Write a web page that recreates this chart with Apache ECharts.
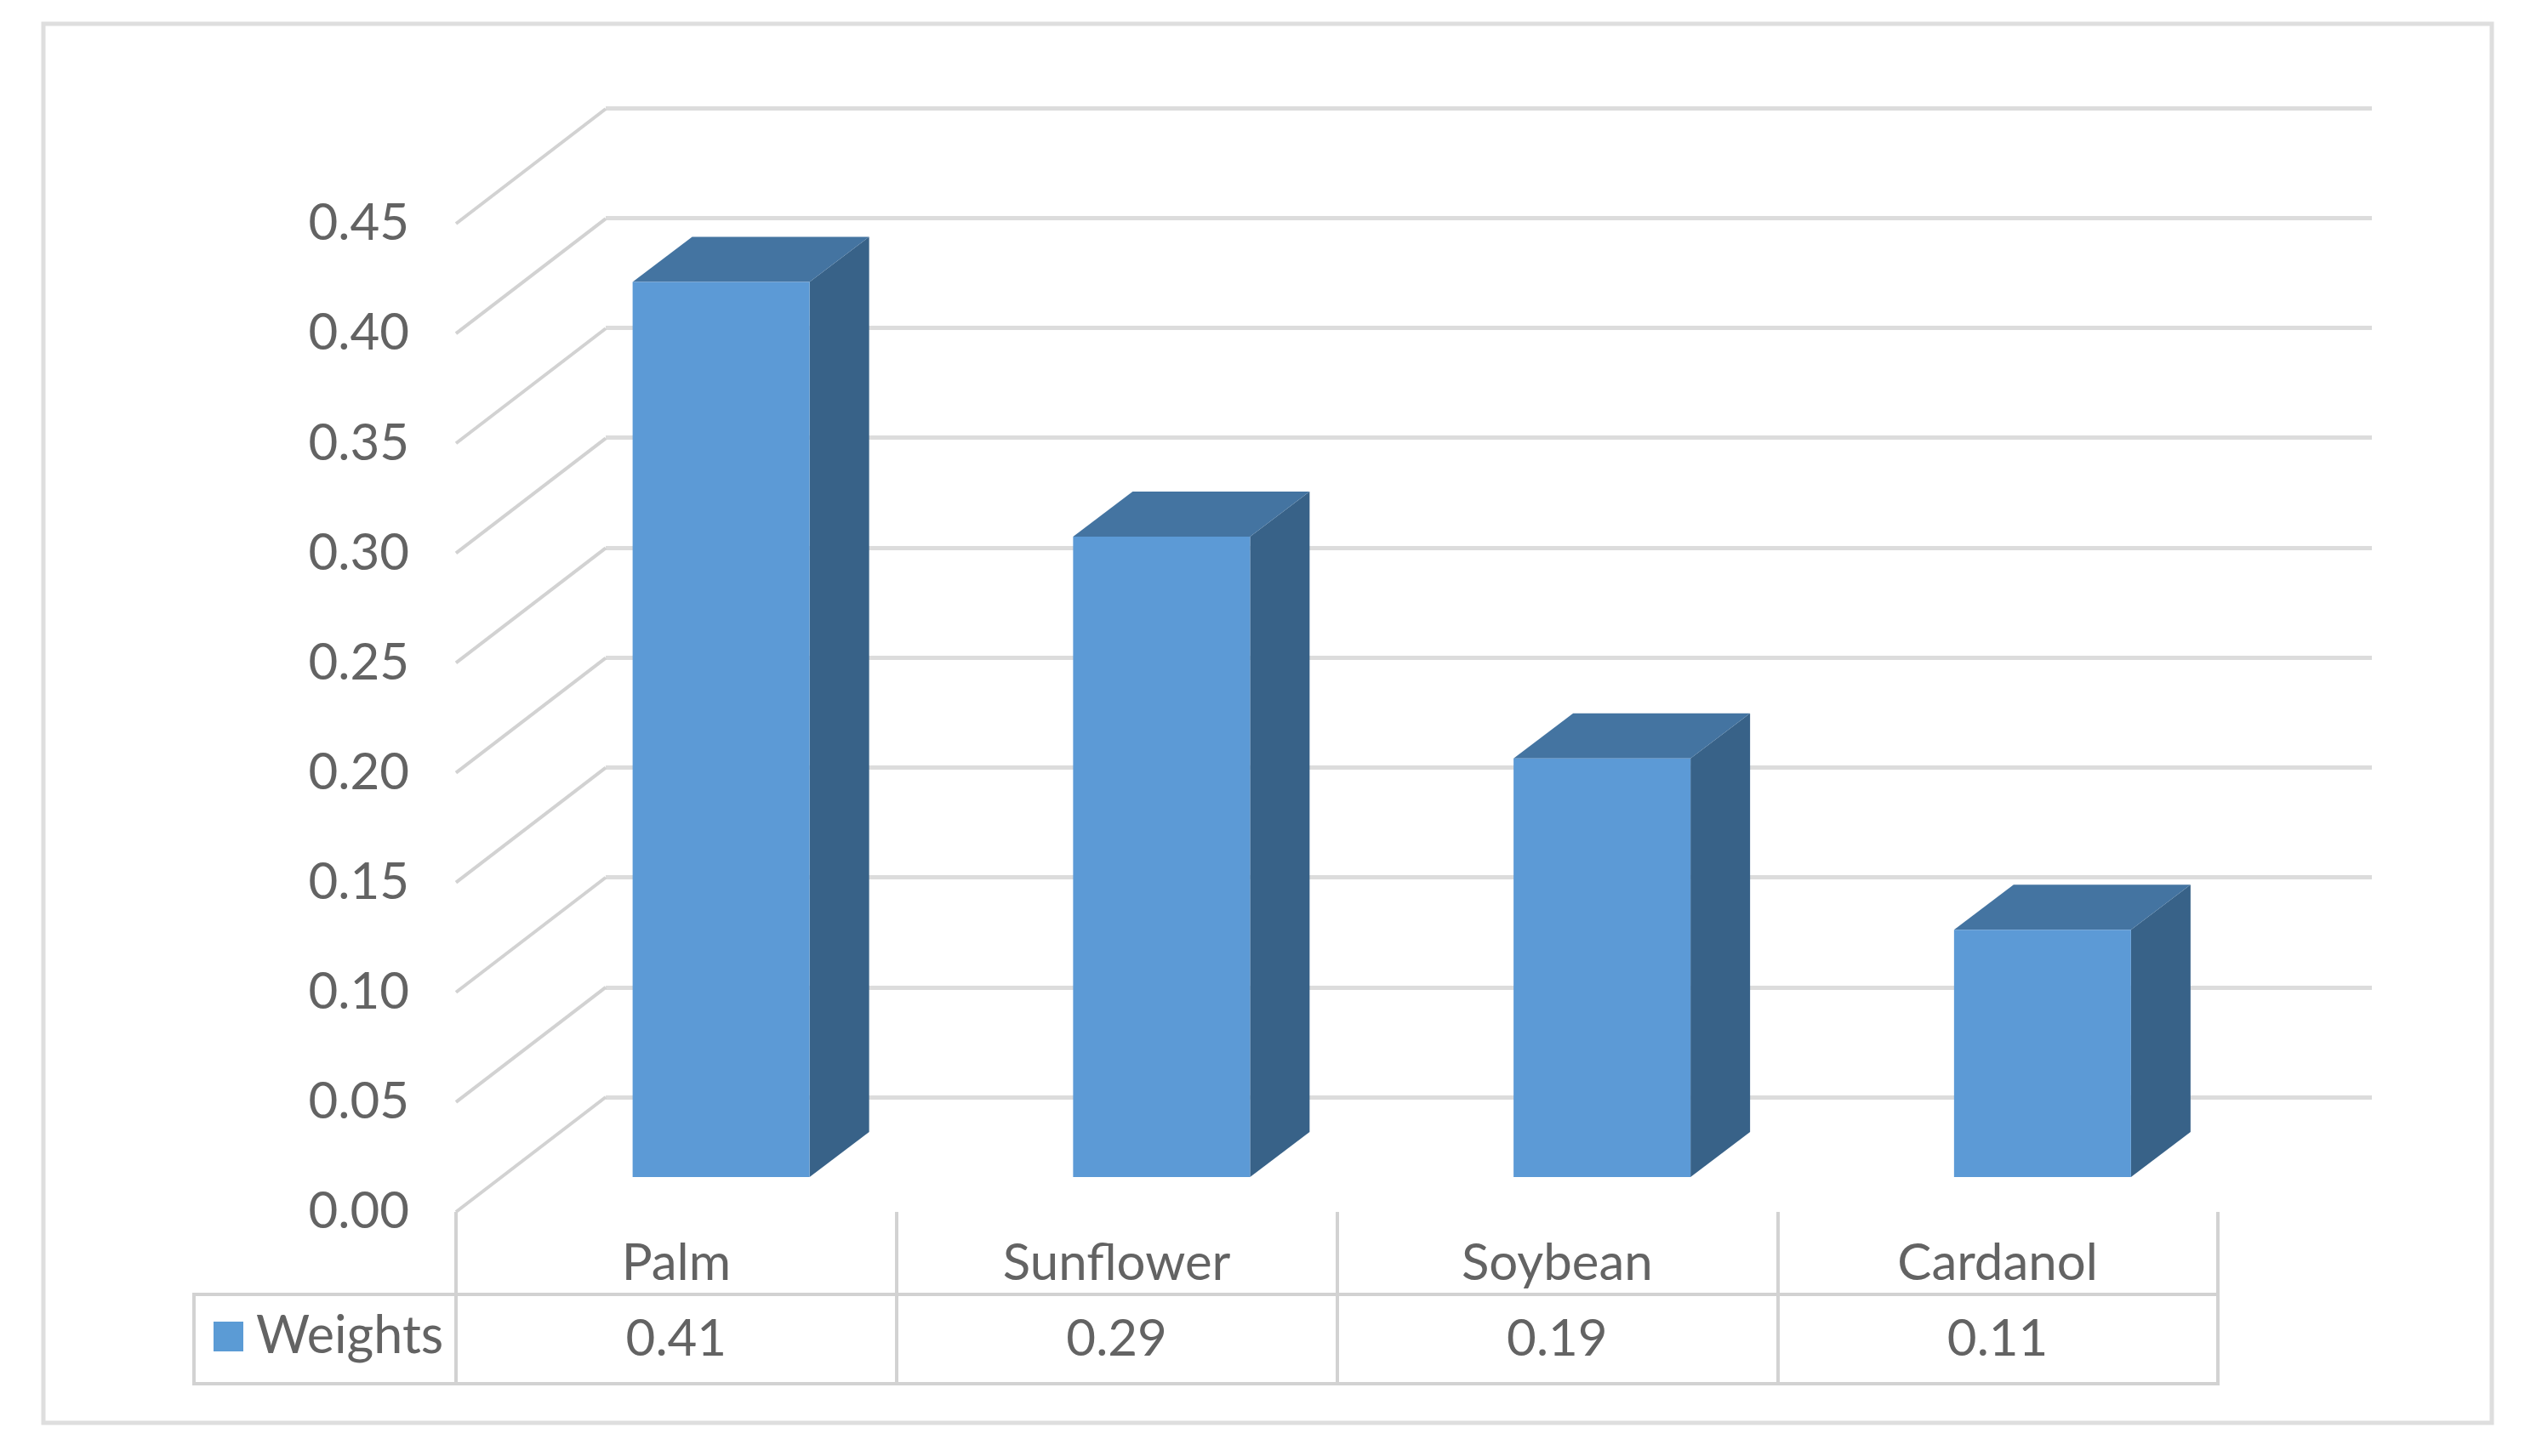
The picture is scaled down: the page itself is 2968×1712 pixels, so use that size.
<!DOCTYPE html>
<html>
<head>
<meta charset="utf-8">
<title>Weights</title>
<style>
  html, body { margin: 0; padding: 0; background: #fff; }
  #chart { width: 2968px; height: 1712px; }
</style>
<script src="https://cdn.jsdelivr.net/npm/echarts@6/dist/echarts.min.js"></script>
</head>
<body>
<div id="chart"></div>
<script>
var categories = ['Palm', 'Sunflower', 'Soybean', 'Cardanol'];
var weights = [0.408, 0.292, 0.191, 0.113];
var yTicks = [0, 0.05, 0.1, 0.15, 0.2, 0.25, 0.3, 0.35, 0.4, 0.45];

var fontFamily = 'Lato';
var textColor = '#636363';
var ruleColor = '#d2d2d2';

function renderBar(params, api) {
  var idx = api.value(0);
  var top = api.coord([idx, api.value(1)]);
  var bottom = api.coord([idx, 0]);
  var band = api.size([1, 0])[0];
  // bar sits part way into the floor of the 3d box
  var x0 = top[0] - band * 0.099;
  var x1 = x0 + 208;
  var y0 = top[1] - 40;
  var y1 = bottom[1] - 41;
  var dx = 70, dy = -53;
  return {
    type: 'group',
    children: [
      { type: 'polygon', shape: { points: [[x1, y0], [x1 + dx, y0 + dy], [x1 + dx, y1 + dy], [x1, y1]] }, style: { fill: '#386288' } },
      { type: 'polygon', shape: { points: [[x0, y0], [x1, y0], [x1 + dx, y0 + dy], [x0 + dx, y0 + dy]] }, style: { fill: '#4474a1' } },
      { type: 'rect', shape: { x: x0, y: y0, width: x1 - x0, height: y1 - y0 }, style: { fill: '#5c9ad6' } }
    ]
  };
}

function renderSideRule(params, api) {
  var p = api.coord([0, api.value(1)]);
  var band = api.size([1, 0])[0];
  var x = p[0] - band / 2;
  return {
    type: 'line',
    shape: { x1: x, y1: p[1], x2: x + 176, y2: p[1] - 135 },
    style: { stroke: ruleColor, lineWidth: 4 }
  };
}

var chart = echarts.init(document.getElementById('chart'));
chart.setOption({
  animation: false,
  backgroundColor: '#fff',
  textStyle: { fontFamily: fontFamily },
  grid: [
    { left: 536, top: 263, width: 2071, height: 1162, outerBoundsMode: 'none' },
    { left: 712, top: 127, width: 2076, height: 1163, outerBoundsMode: 'none' }
  ],
  legend: {
    left: 246,
    top: 1536,
    itemWidth: 35,
    itemHeight: 35,
    itemGap: 0,
    data: [{ name: 'Weights', icon: 'rect', itemStyle: { color: '#5b9bd5' } }],
    textStyle: { color: textColor, fontSize: 61, fontFamily: fontFamily, padding: [0, 0, 0, 10] },
    selectedMode: false
  },
  xAxis: [
    {
      type: 'category',
      gridIndex: 0,
      data: categories,
      axisLine: { show: false },
      axisTick: { show: true, length: 202, lineStyle: { color: ruleColor, width: 4 } },
      axisLabel: { color: textColor, fontSize: 60, fontFamily: fontFamily, margin: 31 }
    },
    {
      type: 'category',
      gridIndex: 0,
      position: 'bottom',
      offset: 97,
      data: weights.map(function (v) { return v.toFixed(2); }),
      axisLine: { show: false },
      axisTick: { show: false },
      axisLabel: { color: textColor, fontSize: 60, fontFamily: fontFamily, margin: 23 }
    },
    { type: 'category', gridIndex: 1, data: categories, show: false }
  ],
  yAxis: [
    {
      type: 'value',
      gridIndex: 0,
      min: 0,
      max: 0.45,
      interval: 0.05,
      axisLine: { show: false },
      axisTick: { show: false },
      splitLine: { show: false },
      axisLabel: {
        color: textColor,
        fontSize: 60,
        fontFamily: fontFamily,
        margin: 55,
        formatter: function (value) { return value.toFixed(2); }
      }
    },
    {
      type: 'value',
      gridIndex: 1,
      min: 0,
      max: 0.45,
      interval: 0.05,
      axisLine: { show: false },
      axisTick: { show: false },
      axisLabel: { show: false },
      splitLine: { show: true, lineStyle: { color: '#dcdcdc', width: 5 } }
    }
  ],
  series: [
    {
      type: 'custom',
      xAxisIndex: 0,
      yAxisIndex: 0,
      silent: true,
      z: 1,
      renderItem: renderSideRule,
      data: yTicks.map(function (t) { return [0, t]; })
    },
    {
      name: 'Weights',
      type: 'custom',
      xAxisIndex: 0,
      yAxisIndex: 0,
      z: 3,
      itemStyle: { color: '#5b9bd5' },
      renderItem: renderBar,
      encode: { x: 0, y: 1 },
      data: weights.map(function (v, i) { return [i, v]; })
    }
  ],
  graphic: [
    { type: 'rect', z: 0, shape: { x: 51, y: 28, width: 2878, height: 1645 }, style: { fill: 'none', stroke: '#dedede', lineWidth: 5 } },
    { type: 'rect', z: 0, shape: { x: 228, y: 1522, width: 2379, height: 105 }, style: { fill: 'none', stroke: ruleColor, lineWidth: 4 } }
  ]
});
</script>
</body>
</html>
